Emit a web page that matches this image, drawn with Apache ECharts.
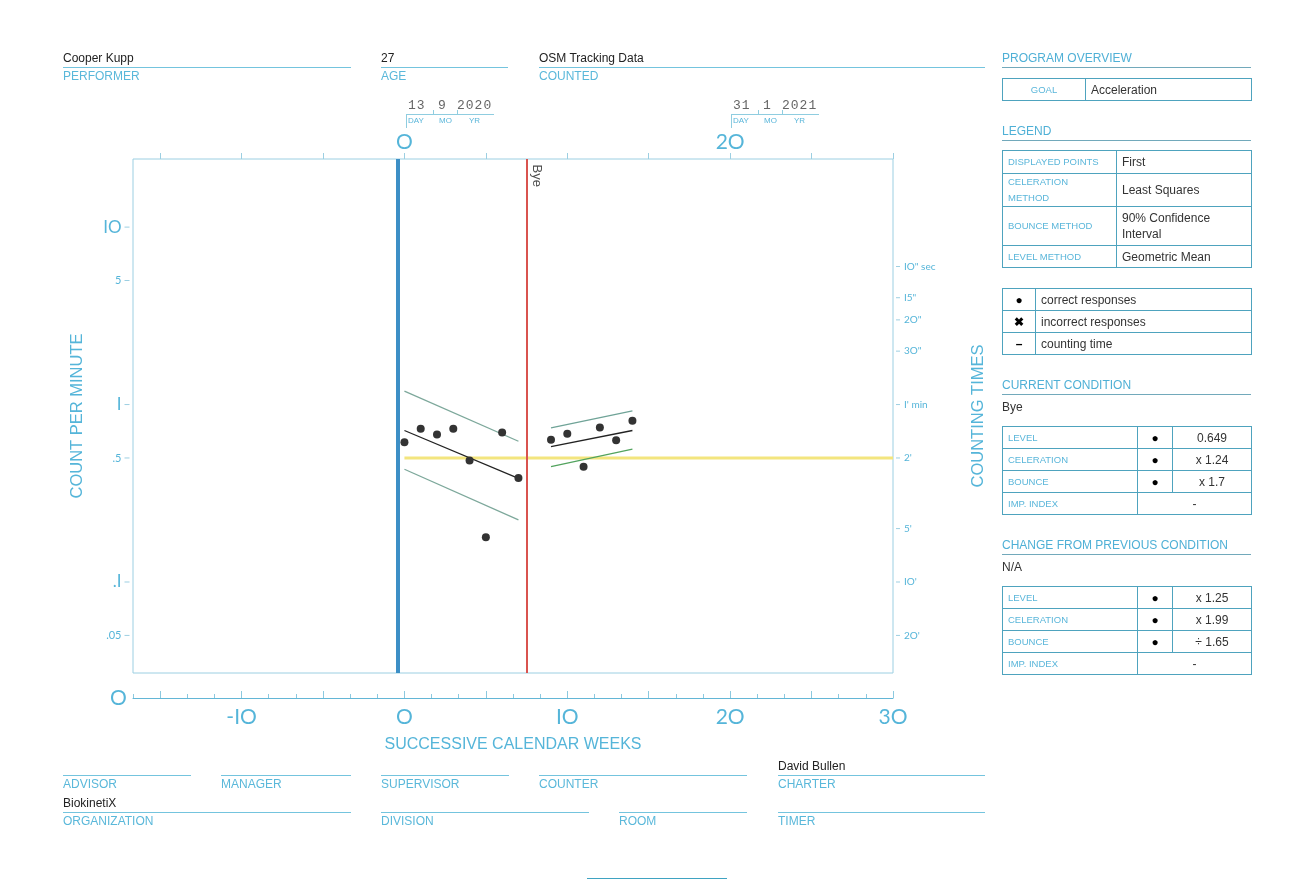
<!DOCTYPE html>
<html>
<head>
<meta charset="utf-8">
<script src="https://cdn.jsdelivr.net/npm/echarts@6/dist/echarts.min.js"></script>
<style>
body{margin:0;background:#fff;font-family:Arial,"Liberation Sans",sans-serif;}
#page{position:relative;width:1290px;height:880px;overflow:hidden;}
#chart{position:absolute;left:0;top:0;width:1290px;height:880px;}
.fld{position:absolute;height:0;border-top:1px solid #74c4de;}
.fld .v{position:absolute;left:0;top:-17px;font-size:12px;color:#222;white-space:nowrap;}
.fld .k{position:absolute;left:0;top:1px;font-size:12px;color:#5ab8da;white-space:nowrap;}
.sec{position:absolute;left:1002px;width:249px;height:16px;line-height:14px;font-size:12px;color:#4fb0d6;border-bottom:1px solid #72a9bb;}
.plain{position:absolute;left:1002px;font-size:12px;color:#333;}
table.t{position:absolute;left:1002px;width:250px;border-collapse:collapse;table-layout:fixed;}
table.t td{border:1px solid #4ea3be;padding:0 5px;font-size:12px;color:#333;line-height:16px;}
table.t td.k{font-size:9.5px;color:#5ab6da;}
table.t td.c{text-align:center;}
.dt{position:absolute;width:88px;height:30px;}
.dt .n{position:absolute;top:0;font:13px "Liberation Mono","DejaVu Sans Mono",monospace;color:#666;letter-spacing:1px;}
.dt .u{position:absolute;left:0;top:16px;width:88px;border-top:1px solid #8fcde0;}
.dt .b{position:absolute;left:0;top:16px;height:14px;border-left:1px solid #8fcde0;}
.dt .s{position:absolute;top:12px;height:4px;border-left:1px solid #8fcde0;}
.dt .l{position:absolute;top:18px;font-size:8px;color:#5ab6da;}
</style>
</head>
<body>
<div id="page">
<div id="chart"></div>

<!-- header fields -->
<div class="fld" style="left:63px;top:67px;width:288px"><span class="v">Cooper Kupp</span><span class="k">PERFORMER</span></div>
<div class="fld" style="left:381px;top:67px;width:127px"><span class="v">27</span><span class="k">AGE</span></div>
<div class="fld" style="left:539px;top:67px;width:446px"><span class="v">OSM Tracking Data</span><span class="k">COUNTED</span></div>

<!-- date boxes -->
<div class="dt" style="left:406px;top:98px">
  <span class="n" style="left:2px">13</span><span class="n" style="left:32px">9</span><span class="n" style="left:51px">2020</span>
  <div class="u"></div><div class="b"></div><div class="s" style="left:27px"></div><div class="s" style="left:51px"></div>
  <span class="l" style="left:2px">DAY</span><span class="l" style="left:33px">MO</span><span class="l" style="left:63px">YR</span>
</div>
<div class="dt" style="left:731px;top:98px">
  <span class="n" style="left:2px">31</span><span class="n" style="left:32px">1</span><span class="n" style="left:51px">2021</span>
  <div class="u"></div><div class="b"></div><div class="s" style="left:27px"></div><div class="s" style="left:51px"></div>
  <span class="l" style="left:2px">DAY</span><span class="l" style="left:33px">MO</span><span class="l" style="left:63px">YR</span>
</div>

<!-- footer fields -->
<div class="fld" style="left:63px;top:775px;width:128px"><span class="k">ADVISOR</span></div>
<div class="fld" style="left:221px;top:775px;width:130px"><span class="k">MANAGER</span></div>
<div class="fld" style="left:381px;top:775px;width:128px"><span class="k">SUPERVISOR</span></div>
<div class="fld" style="left:539px;top:775px;width:208px"><span class="k">COUNTER</span></div>
<div class="fld" style="left:778px;top:775px;width:207px"><span class="v">David Bullen</span><span class="k">CHARTER</span></div>
<div class="fld" style="left:63px;top:812px;width:288px"><span class="v">BiokinetiX</span><span class="k">ORGANIZATION</span></div>
<div class="fld" style="left:381px;top:812px;width:208px"><span class="k">DIVISION</span></div>
<div class="fld" style="left:619px;top:812px;width:128px"><span class="k">ROOM</span></div>
<div class="fld" style="left:778px;top:812px;width:207px"><span class="k">TIMER</span></div>
<div style="position:absolute;left:587px;top:878px;width:140px;border-top:1px solid #3fa3c2"></div>

<!-- right panel -->
<div class="sec" style="top:51px">PROGRAM OVERVIEW</div>
<table class="t" style="top:78px">
  <colgroup><col style="width:83px"><col></colgroup>
  <tr style="height:22px"><td class="k c">GOAL</td><td>Acceleration</td></tr>
</table>

<div class="sec" style="top:124px">LEGEND</div>
<table class="t" style="top:150px">
  <colgroup><col style="width:114px"><col></colgroup>
  <tr style="height:23px"><td class="k">DISPLAYED POINTS</td><td>First</td></tr>
  <tr style="height:32px"><td class="k">CELERATION<br>METHOD</td><td>Least Squares</td></tr>
  <tr style="height:39px"><td class="k">BOUNCE METHOD</td><td>90% Confidence Interval</td></tr>
  <tr style="height:22px"><td class="k">LEVEL METHOD</td><td>Geometric Mean</td></tr>
</table>

<table class="t" style="top:288px">
  <colgroup><col style="width:33px"><col></colgroup>
  <tr style="height:22px"><td class="c" style="color:#000">&#9679;</td><td>correct responses</td></tr>
  <tr style="height:22px"><td class="c" style="color:#000;font-weight:bold">&#10006;</td><td>incorrect responses</td></tr>
  <tr style="height:22px"><td class="c" style="color:#000;font-weight:bold">&#8211;</td><td>counting time</td></tr>
</table>

<div class="sec" style="top:378px">CURRENT CONDITION</div>
<div class="plain" style="top:400px">Bye</div>
<table class="t" style="top:426px">
  <colgroup><col style="width:135px"><col style="width:35px"><col></colgroup>
  <tr style="height:22px"><td class="k">LEVEL</td><td class="c" style="color:#000">&#9679;</td><td class="c">0.649</td></tr>
  <tr style="height:22px"><td class="k">CELERATION</td><td class="c" style="color:#000">&#9679;</td><td class="c">x 1.24</td></tr>
  <tr style="height:22px"><td class="k">BOUNCE</td><td class="c" style="color:#000">&#9679;</td><td class="c">x 1.7</td></tr>
  <tr style="height:22px"><td class="k">IMP. INDEX</td><td class="c" colspan="2">-</td></tr>
</table>

<div class="sec" style="top:538px">CHANGE FROM PREVIOUS CONDITION</div>
<div class="plain" style="top:560px">N/A</div>
<table class="t" style="top:586px">
  <colgroup><col style="width:135px"><col style="width:35px"><col></colgroup>
  <tr style="height:22px"><td class="k">LEVEL</td><td class="c" style="color:#000">&#9679;</td><td class="c">x 1.25</td></tr>
  <tr style="height:22px"><td class="k">CELERATION</td><td class="c" style="color:#000">&#9679;</td><td class="c">x 1.99</td></tr>
  <tr style="height:22px"><td class="k">BOUNCE</td><td class="c" style="color:#000">&#9679;</td><td class="c">&#247; 1.65</td></tr>
  <tr style="height:22px"><td class="k">IMP. INDEX</td><td class="c" colspan="2">-</td></tr>
</table>
</div>

<script>
// weekly counts per minute, phase 1 and phase 2 (Bye)
var weeks1 = [0, 1, 2, 3, 4, 5, 6, 7];
var counts1 = [0.613, 0.730, 0.678, 0.730, 0.484, 0.179, 0.695, 0.386];
var weeks2 = [9, 10, 11, 12, 13, 14];
var counts2 = [0.633, 0.684, 0.446, 0.742, 0.629, 0.810];

// celeration and bounce lines (start / end of each phase)
var celWeeks1 = [0, 7];
var celLine1 = [0.714, 0.384];
var bounceUp1 = [1.189, 0.621];
var bounceLow1 = [0.432, 0.224];
var celWeeks2 = [9, 14];
var celLine2 = [0.580, 0.714];
var bounceUp2 = [0.739, 0.922];
var bounceLow2 = [0.447, 0.560];

var phaseStart = -0.4;
var byeWeek = 7.53;
var floorWeeks = [0, 30];
var floorCount = 0.5;

// axis ticks and labels
var X_MIN = -50 / 3, X_MAX = 30;
var Y_MIN = 0.0307, Y_MAX = 24.2;
var majorTicks = [-15, -10, -5, 0, 5, 10, 15, 20, 25, 30];
var bottomLabels = [-10, 0, 10, 20, 30];
var topLabels = [0, 20];
var minorTicks = [];
for (var i = -10; i <= 18; i++) minorTicks.push(i * 5 / 3);
var cpmTicks = [10, 5, 1, 0.5, 0.1, 0.05];
var cpmLabels = ['IO', '5', 'I', '.5', '.I', '.05'];
var cpmBig = [true, false, true, false, true, false];
var timeTicks = [6, 4, 3, 2, 1, 0.5, 0.2, 0.1, 0.05];
var timeLabels = ['IO" sec', 'I5"', '2O"', '3O"', "I' min", "2'", "5'", "IO'", "2O'"];

var lineBlue = '#9ccfe2';
var textBlue = '#55b5d9';

function scc(v) {
    return String(v).replace(/0/g, 'O').replace(/1/g, 'I');
}
function pairs(xs, ys) {
    return xs.map(function (x, k) { return [x, ys[k]]; });
}
function xAx(extra) {
    var a = {
        type: 'value', min: X_MIN, max: X_MAX,
        splitLine: { show: false },
        axisLine: { show: false, onZero: false },
        axisTick: { show: false },
        axisLabel: { show: false }
    };
    for (var k in extra) a[k] = extra[k];
    return a;
}
function trend(xs, ys, color, width) {
    return {
        type: 'line', data: pairs(xs, ys), symbol: 'none', silent: true, z: 3,
        lineStyle: { color: color, width: width }
    };
}

var chart = echarts.init(document.getElementById('chart'));
var option = {
    animation: false,
    grid: {
        left: 133, right: 397, top: 159, bottom: 207,
        show: true, borderColor: lineBlue, borderWidth: 1
    },
    xAxis: [
        xAx({ position: 'bottom' }),
        xAx({
            position: 'top',
            axisTick: { show: true, inside: false, length: 6, customValues: majorTicks, lineStyle: { color: lineBlue } },
            axisLabel: { show: true, customValues: topLabels, formatter: scc, fontSize: 21, color: textBlue, margin: 6, fontFamily: 'Lato' }
        }),
        xAx({
            position: 'bottom', offset: 25,
            axisLine: { show: true, onZero: false, lineStyle: { color: '#63b6d6' } },
            axisTick: { show: true, inside: true, length: 4, customValues: minorTicks, lineStyle: { color: '#8cc9df' } }
        }),
        xAx({
            position: 'bottom', offset: 25,
            axisTick: { show: true, inside: true, length: 7, customValues: majorTicks, lineStyle: { color: '#8cc9df' } },
            axisLabel: { show: true, customValues: bottomLabels, formatter: scc, fontSize: 21, color: textBlue, margin: 9, fontFamily: 'Lato' },
            name: 'SUCCESSIVE CALENDAR WEEKS', nameLocation: 'middle', nameGap: 39,
            nameTextStyle: { fontSize: 16, color: textBlue, fontFamily: 'Arial' }
        })
    ],
    yAxis: [
        {
            type: 'log', logBase: 10, min: Y_MIN, max: Y_MAX, position: 'left',
            axisLine: { show: false }, axisTick: { show: false }, axisLabel: { show: false }, splitLine: { show: false },
            name: 'COUNT PER MINUTE', nameLocation: 'middle', nameGap: 47, nameRotate: 90,
            nameTextStyle: { fontSize: 16.5, color: textBlue, fontFamily: 'Arial' }
        },
        {
            type: 'log', logBase: 10, min: Y_MIN, max: Y_MAX, position: 'right',
            axisLine: { show: false }, axisTick: { show: false }, axisLabel: { show: false }, splitLine: { show: false },
            name: 'COUNTING TIMES', nameLocation: 'middle', nameGap: 77, nameRotate: 90,
            nameTextStyle: { fontSize: 16.5, color: textBlue, fontFamily: 'Arial' }
        }
    ],
    graphic: [{
        type: 'text', left: 110, top: 688,
        style: { text: 'O', fontSize: 21, fill: textBlue, fontFamily: 'Lato' }
    }],
    series: [
        {
            type: 'line', data: pairs(floorWeeks, [floorCount, floorCount]), symbol: 'none', silent: true, z: 2,
            lineStyle: { color: '#f3e57e', width: 3 },
            markLine: {
                silent: true, symbol: 'none', label: { show: false },
                data: [
                    { xAxis: phaseStart, lineStyle: { color: '#3d8fc6', width: 4, type: 'solid' } },
                    { xAxis: byeWeek, lineStyle: { color: '#d9534f', width: 2, type: 'solid' } }
                ]
            }
        },
        trend(celWeeks1, bounceUp1, '#7da89b', 1.3),
        trend(celWeeks1, bounceLow1, '#7da89b', 1.3),
        trend(celWeeks1, celLine1, '#222', 1.3),
        trend(celWeeks2, bounceUp2, '#6fa397', 1.3),
        trend(celWeeks2, bounceLow2, '#52a35e', 1.3),
        trend(celWeeks2, celLine2, '#222', 1.3),
        {
            type: 'scatter', z: 5, silent: true,
            data: pairs(weeks1, counts1).concat(pairs(weeks2, counts2)),
            symbol: 'circle', symbolSize: 8,
            itemStyle: { color: '#333', opacity: 1 }
        },
        {
            // left axis labels
            type: 'scatter', silent: true, clip: false, z: 4,
            data: cpmTicks.map(function (v, k) {
                return {
                    value: [X_MIN, v],
                    label: { formatter: cpmLabels[k], fontSize: cpmBig[k] ? 17 : 11 }
                };
            }),
            symbol: 'rect', symbolSize: [5, 1], symbolOffset: [-6, 0],
            itemStyle: { color: lineBlue, opacity: 1 },
            label: { show: true, position: 'left', distance: 3, color: textBlue, fontFamily: 'Lato' }
        },
        {
            // right axis counting-time labels
            type: 'scatter', silent: true, clip: false, z: 4, yAxisIndex: 1,
            data: timeTicks.map(function (v, k) {
                return { value: [X_MAX, v], label: { formatter: timeLabels[k] } };
            }),
            symbol: 'rect', symbolSize: [4, 1], symbolOffset: [5, 0],
            itemStyle: { color: lineBlue, opacity: 1 },
            label: { show: true, position: 'right', distance: 4, color: textBlue, fontSize: 10, fontFamily: 'Lato' }
        },
        {
            // phase label
            type: 'scatter', silent: true, clip: false, z: 6,
            data: [[byeWeek, Y_MAX]],
            symbolSize: 1, itemStyle: { color: 'rgba(0,0,0,0)' },
            label: {
                show: true, formatter: 'Bye', rotate: -90, position: [4, 6],
                align: 'left', verticalAlign: 'bottom', color: '#222', fontSize: 13
            }
        }
    ]
};
chart.setOption(option);
window.onresize = chart.resize;
</script>
</body>
</html>
